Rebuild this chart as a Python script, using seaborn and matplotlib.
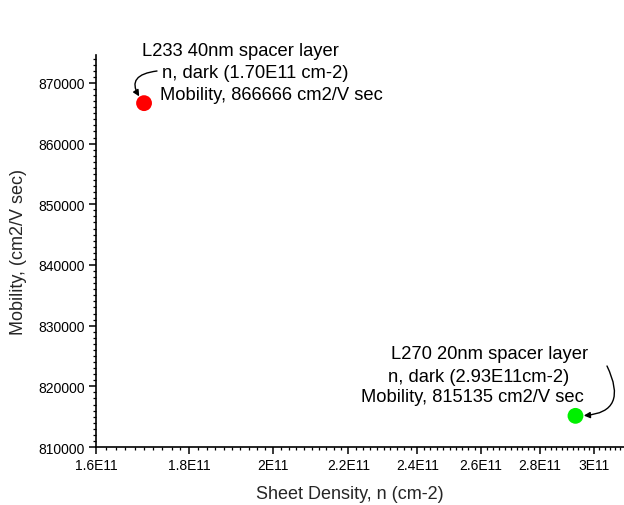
import matplotlib
matplotlib.use("Agg")
import matplotlib.pyplot as plt
import matplotlib.ticker as mticker
import numpy as np
import pandas as pd
import seaborn as sns

# ---- data ----
samples = ["L233", "L270"]
sheet_density = [1.70e11, 2.93e11]
mobility = [866666, 815135]
point_colors = ["#ff0000", "#00f000"]

x_tick_values = [1.6e11, 1.8e11, 2.0e11, 2.2e11, 2.4e11, 2.6e11, 2.8e11, 3.0e11]
x_tick_labels = ["1.6E11", "1.8E11", "2E11", "2.2E11", "2.4E11", "2.6E11", "2.8E11", "3E11"]
y_tick_values = [810000, 820000, 830000, 840000, 850000, 860000, 870000]

note_l233 = ["L233 40nm spacer layer", "n, dark (1.70E11 cm-2)", "Mobility, 866666 cm2/V sec"]
note_l270 = ["L270 20nm spacer layer", "n, dark (2.93E11cm-2)", "Mobility, 815135 cm2/V sec"]

df = pd.DataFrame({"sample": samples, "n": sheet_density, "mu": mobility})

sns.set_style("ticks")
plt.rcParams["font.family"] = ["Liberation Sans", "DejaVu Sans"]

W, H = 624, 506
fig = plt.figure(figsize=(W / 100, H / 100), dpi=100)
ax = fig.add_axes([96 / W, (H - 448) / H, (W - 96) / W, (448 - 56) / H])

sns.scatterplot(data=df, x="n", y="mu", hue="sample", palette=point_colors,
                s=130, edgecolor="none", legend=False, ax=ax, zorder=3, clip_on=False)

ax.set_xscale("log")
ax.set_xlim(1.6e11, 3.115e11)
ax.set_ylim(810000, 874600)

ax.xaxis.set_major_locator(mticker.FixedLocator(x_tick_values))
ax.xaxis.set_major_formatter(mticker.FixedFormatter(x_tick_labels))
ax.xaxis.set_minor_locator(mticker.MultipleLocator(2e9))
ax.xaxis.set_minor_formatter(mticker.NullFormatter())
ax.yaxis.set_major_locator(mticker.FixedLocator(y_tick_values))
ax.yaxis.set_major_formatter(mticker.StrMethodFormatter("{x:.0f}"))
ax.yaxis.set_minor_locator(mticker.MultipleLocator(1000))

sns.despine(ax=ax)
for s in ("left", "bottom"):
    ax.spines[s].set_linewidth(1.2)
    ax.spines[s].set_color("black")
ax.tick_params(which="major", direction="out", length=5, width=1.1, labelsize=10, colors="black", pad=3)
ax.tick_params(which="minor", direction="out", length=2.5, width=0.9, colors="black")

ax.set_xlabel("Sheet Density, n (cm-2)", fontsize=13)
ax.set_ylabel("Mobility, (cm2/V sec)", fontsize=13)
ax.xaxis.set_label_coords((350 - 96) / 528, (448 - 486) / 392)
ax.yaxis.set_label_coords((27 - 96) / 528, 0.5)


def fig_text(x, y, s):
    fig.text(x / W, 1 - y / H, s, fontsize=13.2, ha="left", va="center", color="black")


for (x, y), s in zip([(142, 52), (162, 73), (160, 95)], note_l233):
    fig_text(x, y, s)
for (x, y), s in zip([(391, 355), (388, 377), (361, 398)], note_l270):
    fig_text(x, y, s)

arrow_kw = dict(arrowstyle="-|>", color="black", lw=1.0, mutation_scale=9,
                shrinkA=0, shrinkB=6)
ax.annotate("", xy=(sheet_density[0], mobility[0]), xycoords="data",
            xytext=(157, H - 72), textcoords="figure pixels",
            arrowprops=dict(connectionstyle="arc3,rad=0.9", **arrow_kw))
ax.annotate("", xy=(sheet_density[1], mobility[1]), xycoords="data",
            xytext=(607, H - 367), textcoords="figure pixels",
            arrowprops=dict(connectionstyle="arc3,rad=-0.8", **arrow_kw))

fig.savefig("out.png", dpi=100, facecolor="white")
